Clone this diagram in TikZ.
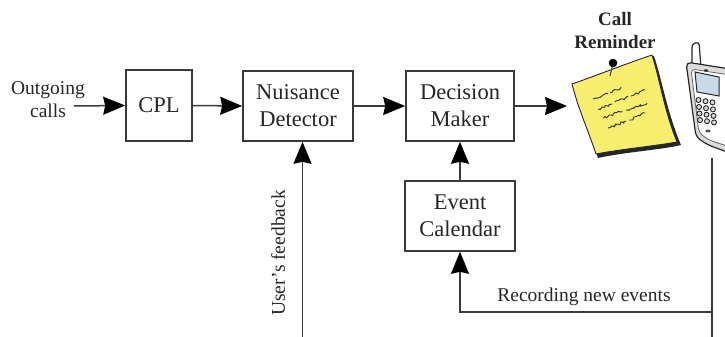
\documentclass[tikz,border=0pt]{standalone}
\usepackage{fontspec}
\setmainfont{Liberation Serif}
\usetikzlibrary{arrows.meta,decorations.pathmorphing}
\definecolor{ink}{HTML}{3A3A3A}
\definecolor{notey}{RGB}{247,238,112}
\definecolor{scrn}{RGB}{200,218,232}
\tikzset{
  blk/.style={draw=ink, line width=1.6pt, fill=white, inner sep=0pt, align=center,
    text=black!85, font=\fontsize{22.5}{27}\selectfont},
  lbl/.style={inner sep=0pt, align=center, text=black!85, font=\fontsize{19.5}{23}\selectfont},
  conn/.style={draw=ink, line width=1.5pt},
  arr/.style={conn, -{Stealth[length=22pt,width=18pt,inset=2pt,black]}},
  scrib/.style={draw=black!80, line width=0.9pt, line join=round, decorate,
    decoration={random steps, segment length=1.8pt, amplitude=1.4pt}},
  ph/.style={draw=black!85, line width=1.2pt, line join=round},
}
\begin{document}
\begin{tikzpicture}[x=1pt,y=-1pt]
\useasboundingbox (0,0) rectangle (725,337);
\pgfmathsetseed{11}

% processing blocks
\node[blk, minimum width=66pt, minimum height=71pt] (cpl) at (159,105.5) {CPL};
\node[blk, minimum width=110pt, minimum height=70pt] (nd) at (298,106) {Nuisance\\Detector};
\node[blk, minimum width=108pt, minimum height=70pt] (dm) at (460,106) {Decision\\Maker};
\node[blk, minimum width=110pt, minimum height=70pt] (ec) at (460,216) {Event\\Calendar};

% side labels
\node[lbl] (out) at (48,100) {Outgoing\\calls};
\node[lbl, rotate=90] (fbl) at (278,253) {User’s feedback};
\node[lbl] (rec) at (584,297) {Recording new events};
\node[inner sep=0pt, align=center, text=black!85, font=\fontsize{19}{23}\selectfont\bfseries]
  (cr) at (615,31) {Call\\Reminder};

% free connector ends
\coordinate (inS) at (74,106);
\coordinate (noteIn) at (567,106);
\coordinate (fb) at (302.5,337);
\coordinate (phTop) at (712,158);
\coordinate (phBot) at (712,337);
\coordinate (recTurn) at (712,312);

% connectors
\draw[arr] (inS) -- (cpl.west);
\draw[arr] (cpl.east) -- (nd.west);
\draw[arr] (nd.east) -- (dm.west);
\draw[arr] (dm.east) -- (noteIn);
\draw[arr] (ec.north) -- (dm.south);
\draw[arr] (fb) -- (fb |- nd.south);
\draw[conn] (phTop) -- (phBot);
\draw[arr] (recTurn) -- (recTurn -| ec.south) -- (ec.south);

% sticky note: shadow, paper, pin and handwriting
\fill[black!85] (575,86) -- (654,56)
  .. controls (662,80) and (667,112) .. (681,145)
  .. controls (660,150) and (625,152) .. (598,158)
  .. controls (590,135) and (580,110) .. (575,86) -- cycle;
\filldraw[fill=notey, draw=black!85, line width=0.9pt] (572,84)
  .. controls (598,75) and (625,64) .. (652,55)
  .. controls (660,80) and (664,110) .. (677,142)
  .. controls (655,146) and (622,149) .. (596,154)
  .. controls (588,130) and (578,108) .. (572,84) -- cycle;
\draw[black!75, line width=1pt] (613,63) -- (610,76);
\fill[black] (613,63) circle (4.3pt);
\draw[scrib] (593,99) -- (608,94);
\draw[scrib] (610,93) -- (621,88);
\draw[scrib] (598,109) -- (612,104);
\draw[scrib] (615,102) -- (628,97);
\draw[scrib] (631,96) -- (645,90);
\draw[scrib] (603,118) -- (622,111);
\draw[scrib] (626,110) -- (647,103);
\draw[scrib] (608,128) -- (626,121);
\draw[scrib] (629,120) -- (645,113);

% mobile phone
\draw[ph, fill=white, rounded corners=3pt] (692,68) -- (692,44) -- (699,42) -- (701,68);
\filldraw[ph, fill=black!14, rounded corners=5pt] (686,62) -- (730,69) -- (730,153)
  -- (708,145) -- (696,137) -- cycle;
\filldraw[draw=black!60, line width=0.8pt, fill=white, rounded corners=4pt]
  (691,69) -- (730,75) -- (730,147) -- (709,140) -- (699,133) -- cycle;
\filldraw[draw=black!85, line width=1pt, fill=scrn] (695,72) -- (719,77) -- (719,96) -- (697,92) -- cycle;
\fill[black!80] (706,70.5) ellipse (2.2pt and 1.3pt);
\foreach \r/\yy in {0/100,1/107,2/113.5,3/120} {
  \foreach \c/\xx in {0/698.5,1/705.5,2/712.5} {
    \draw[black!85, line width=0.9pt, fill=black!15] (\xx+0.5*\r,\yy+1.2*\c) circle (2.5pt);
  }
}
\fill[black!70] (708,131) ellipse (2.6pt and 1.4pt);
\end{tikzpicture}
\end{document}
